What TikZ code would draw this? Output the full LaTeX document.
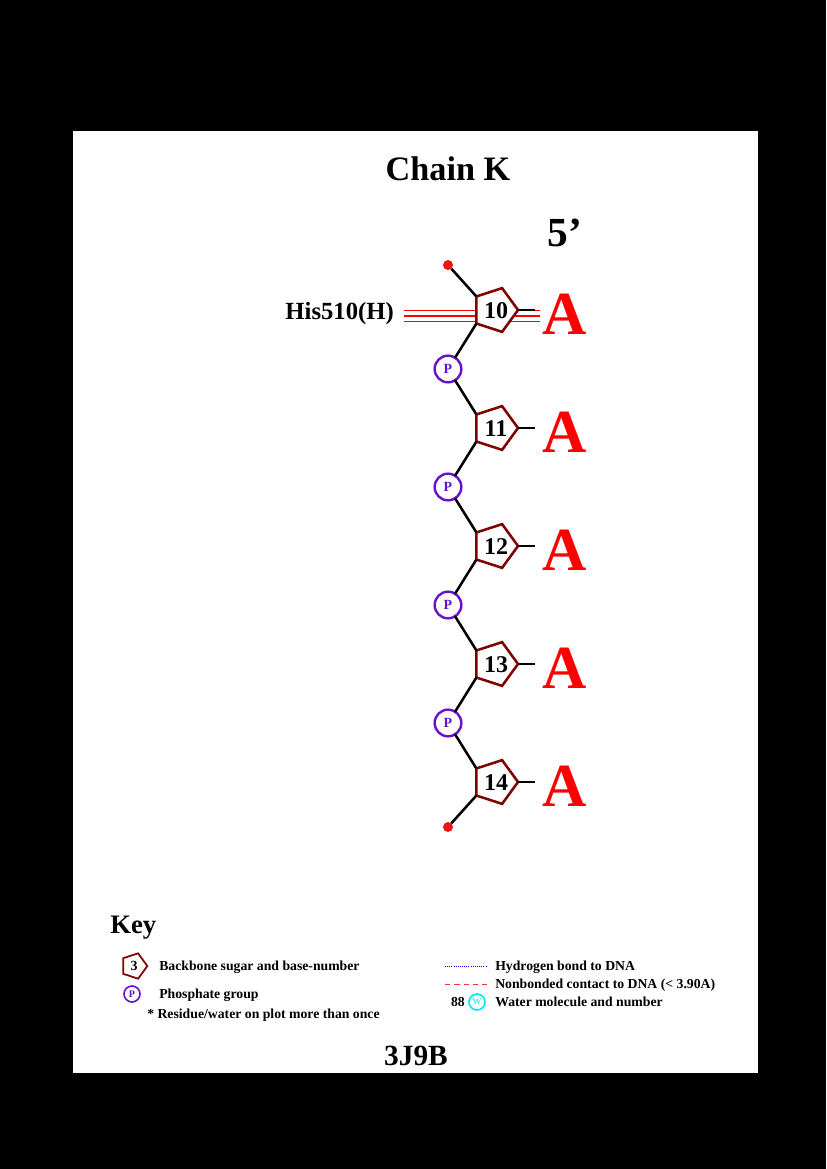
\documentclass[tikz,border=0pt]{standalone}
\usepackage{fontspec}
\setmainfont{Liberation Serif}
\usetikzlibrary{shapes.geometric,backgrounds,calc}
\definecolor{sugar}{RGB}{128,0,0}
\definecolor{phos}{RGB}{102,17,204}
\definecolor{wat}{RGB}{0,230,240}
\definecolor{dotred}{RGB}{240,20,20}
\tikzset{
  sugarbox/.style={regular polygon, regular polygon sides=5, shape border rotate=-90,
    draw=sugar, line width=1.9pt, fill=white, minimum size=34.5pt, inner sep=0pt, outer sep=0pt,
    font=\fontsize{18}{18}\selectfont\bfseries},
  phosbox/.style={circle, draw=phos, line width=1.8pt, fill=white, minimum size=20pt, inner sep=0pt, outer sep=0pt,
    text=phos, font=\fontsize{10.5}{10.5}\selectfont\bfseries},
  bond/.style={line width=1.9pt, black},
  enddot/.style={circle, fill=dotred, minimum size=7.5pt, inner sep=0pt, outer sep=0pt},
  basetxt/.style={text=red, font=\fontsize{46}{46}\selectfont\bfseries, anchor=base, inner sep=0pt},
  keytxt/.style={font=\fontsize{10.3}{10.3}\selectfont\bfseries, anchor=base west, inner sep=0pt},
  contact/.style={red, line width=0.8pt},
}
\begin{document}
\begin{tikzpicture}[x=0.75pt,y=-0.75pt]
\useasboundingbox (0,0) rectangle (826,1169);
\begin{pgfonlayer}{background}
\fill[black] (0,0) rectangle (826,1169);
\fill[white] (73,131) rectangle (758,1073);
\end{pgfonlayer}
% titles
\node[anchor=base, inner sep=0pt, font=\fontsize{25.7}{25.7}\selectfont\bfseries] (title) at (448,181) {Chain K};
\node[anchor=base, inner sep=0pt, font=\fontsize{31}{31}\selectfont\bfseries] (five) at (565,247) {5’};
% sugars
\foreach \n/\y in {10/310,11/428,12/546,13/664,14/782}{
  \node[sugarbox] (s\n) at (495,\y) {};
  \node[anchor=base, inner sep=0pt, font=\fontsize{18}{18}\selectfont\bfseries] (num\n) at (496,\y+8) {\n};
  \coordinate (b\n) at (535,\y);
  \node[basetxt] (a\n) at (565,\y+24) {A};
}
\foreach \i/\y in {1/369,2/487,3/605,4/723}{
  \node[phosbox] (p\i) at (448,\y) {P};
}
\node[enddot] (d0) at (448,265) {};
\node[enddot] (d1) at (448,827) {};
% backbone
\draw[bond] (d0) -- (s10.corner 3);
\draw[bond] (s10.corner 4) -- (p1);
\draw[bond] (p1) -- (s11.corner 3);
\draw[bond] (s11.corner 4) -- (p2);
\draw[bond] (p2) -- (s12.corner 3);
\draw[bond] (s12.corner 4) -- (p3);
\draw[bond] (p3) -- (s13.corner 3);
\draw[bond] (s13.corner 4) -- (p4);
\draw[bond] (p4) -- (s14.corner 3);
\draw[bond] (s14.corner 4) -- (d1);
\foreach \n in {10,11,12,13,14}{\draw[bond] (s\n.corner 1) -- (b\n);}
% residue contact
\node[anchor=base east, inner sep=0pt, font=\fontsize{18.5}{18.5}\selectfont\bfseries] (his) at (394,319) {His510(H)};
\coordinate (hl) at (404,316);
\coordinate (hr) at (540,316);
\begin{pgfonlayer}{background}
\draw[contact] ($(hl)+(0,-5.5)$) -- ($(hr)+(0,-5.5)$);
\draw[contact] (hl) -- (hr);
\draw[contact] ($(hl)+(0,5.5)$) -- ($(hr)+(0,5.5)$);
\end{pgfonlayer}
% key
\node[anchor=base west, inner sep=0pt, font=\fontsize{20}{20}\selectfont\bfseries] (key) at (110,933) {Key};
\node[regular polygon, regular polygon sides=5, shape border rotate=-90, draw=sugar, line width=1.3pt,
  minimum size=20pt, inner sep=0pt, font=\fontsize{10.5}{10.5}\selectfont\bfseries] (ks) at (134,966) {3};
\node[keytxt] (kt1) at (159,970) {Backbone sugar and base-number};
\node[circle, draw=phos, line width=1.2pt, minimum size=12pt, inner sep=0pt, text=phos,
  font=\fontsize{7.5}{7.5}\selectfont\bfseries] (kp) at (132,994) {P};
\node[keytxt] (kt2) at (159,998) {Phosphate group};
\node[keytxt] (kt3) at (147,1018) {* Residue/water on plot more than once};
\coordinate (hb1) at (445,966); \coordinate (hb2) at (487,966);
\draw[blue, densely dotted, line width=0.6pt] (hb1) -- (hb2);
\node[keytxt] (kt4) at (495,970) {Hydrogen bond to DNA};
\coordinate (nb1) at (445,984); \coordinate (nb2) at (487,984);
\draw[red!80, line width=0.6pt, dash pattern=on 4pt off 3pt] (nb1) -- (nb2);
\node[keytxt] (kt5) at (495,988) {Nonbonded contact to DNA (< 3.90A)};
\node[anchor=base east, inner sep=0pt, font=\fontsize{10.3}{10.3}\selectfont\bfseries] (k88) at (465,1006) {88};
\node[circle, draw=wat, line width=1.2pt, minimum size=12pt, inner sep=0pt, text=wat,
  font=\fontsize{7}{7}\selectfont] (kw) at (477,1002) {W};
\node[keytxt] (kt6) at (495,1006) {Water molecule and number};
\node[anchor=base, inner sep=0pt, font=\fontsize{22}{22}\selectfont\bfseries] (pdb) at (416,1065) {3J9B};
\end{tikzpicture}
\end{document}
